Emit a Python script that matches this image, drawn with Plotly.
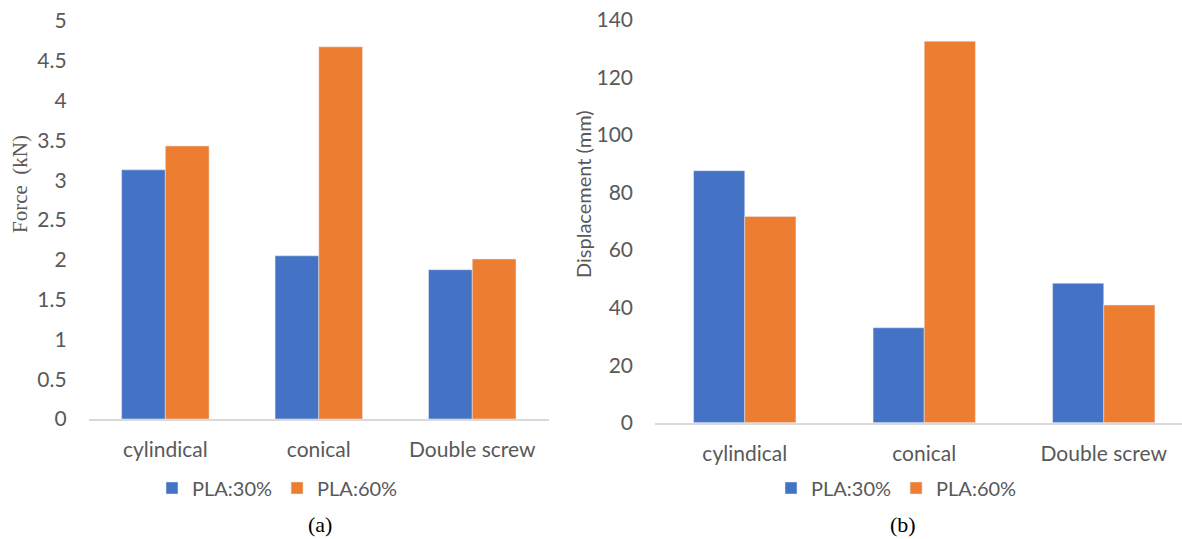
import plotly.graph_objects as go

categories = ["cylindical", "conical", "Double screw"]
series_names = ["PLA:30%", "PLA:60%"]
force_pla30 = [3.13, 2.05, 1.875]
force_pla60 = [3.43, 4.675, 2.01]
disp_pla30 = [87.6, 33.0, 48.5]
disp_pla60 = [71.7, 132.6, 40.9]

BLUE = "#4472C4"
ORANGE = "#ED7D31"
GRAY = "#595959"
SANS = "Lato, Carlito, sans-serif"
TICKFONT = dict(family=SANS, size=21, color=GRAY)

fig = go.Figure()
fig.add_trace(go.Bar(x=categories, y=force_pla30, name=series_names[0], marker_color=BLUE,
                     xaxis="x", yaxis="y", legend="legend"))
fig.add_trace(go.Bar(x=categories, y=force_pla60, name=series_names[1], marker_color=ORANGE,
                     xaxis="x", yaxis="y", legend="legend"))
fig.add_trace(go.Bar(x=categories, y=disp_pla30, name=series_names[0], marker_color=BLUE,
                     xaxis="x2", yaxis="y2", legend="legend2"))
fig.add_trace(go.Bar(x=categories, y=disp_pla60, name=series_names[1], marker_color=ORANGE,
                     xaxis="x2", yaxis="y2", legend="legend2"))

W, H = 1182, 539
def px_x(p): return p / W
def px_y(p): return 1 - p / H

xcommon = dict(showgrid=False, showline=True, linecolor="#D9D9D9", linewidth=1.5,
               ticks="", tickfont=TICKFONT, automargin=False, ticklabelstandoff=11,
               ticklabeloverflow="allow")
ycommon = dict(showgrid=False, showline=False, zeroline=False, ticks="",
               tickfont=TICKFONT, automargin=False, ticklabelstandoff=21,
               ticklabeloverflow="allow")

ann_common = dict(xref="paper", yref="paper", showarrow=False, xanchor="center", yanchor="middle")

fig.update_layout(
    width=W, height=H,
    margin=dict(l=0, r=0, t=0, b=0),
    paper_bgcolor="white", plot_bgcolor="white",
    barmode="group", bargap=0.43, bargroupgap=0,
    xaxis=dict(domain=[px_x(88.6), px_x(549)], anchor="y", range=[-0.5, 2.5], **xcommon),
    yaxis=dict(domain=[px_y(419), px_y(21)], anchor="x", range=[0, 5], dtick=0.5, **ycommon),
    xaxis2=dict(domain=[px_x(655), 1.0], anchor="y2", range=[-0.5, 2.436], **xcommon),
    yaxis2=dict(domain=[px_y(422.7), px_y(20)], anchor="x2", range=[0, 140], dtick=20, **ycommon),
    legend=dict(orientation="h", x=px_x(152), y=px_y(488), xanchor="left", yanchor="middle",
                font=dict(family=SANS, size=20, color=GRAY),
                itemwidth=30, bgcolor="rgba(0,0,0,0)"),
    legend2=dict(orientation="h", x=px_x(771), y=px_y(488), xanchor="left", yanchor="middle",
                 font=dict(family=SANS, size=20, color=GRAY),
                 itemwidth=30, bgcolor="rgba(0,0,0,0)"),
    annotations=[
        dict(text="Force\u00a0\u00a0(kN)", x=px_x(20), y=px_y(184), textangle=-90,
             font=dict(family="Liberation Serif, serif", size=21, color=GRAY), **ann_common),
        dict(text="Displacement (mm)", x=px_x(583), y=px_y(194), textangle=-90,
             font=dict(family=SANS, size=20, color=GRAY), **ann_common),
        dict(text="(a)", x=px_x(320), y=px_y(524),
             font=dict(family="Liberation Serif, serif", size=22, color="black"), **ann_common),
        dict(text="(b)", x=px_x(903), y=px_y(524),
             font=dict(family="Liberation Serif, serif", size=22, color="black"), **ann_common),
    ],
)

fig.write_html("out.html", config={"displayModeBar": False},
               post_script="document.body.style.margin='0';document.body.style.overflow='hidden';")
